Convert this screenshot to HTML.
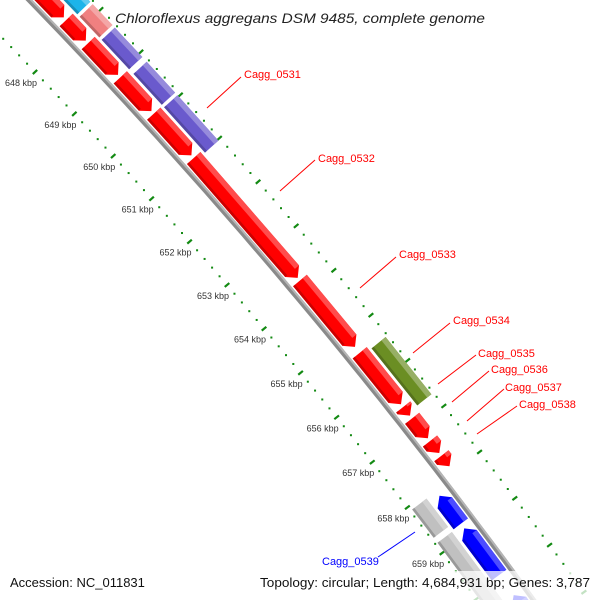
<!DOCTYPE html>
<html><head><meta charset="utf-8"><style>
html,body{margin:0;padding:0;background:#fff;width:600px;height:600px;overflow:hidden;}
svg{display:block;font-family:"Liberation Sans",sans-serif;overflow:hidden;}
</style></head><body>
<svg id="map" width="600" height="600" viewBox="0 0 600 600" xmlns="http://www.w3.org/2000/svg">
<g id="rulers"></g>
<g id="backbone"></g>
<g id="features"></g>
<g id="labels">
<g fill="none" stroke="#ff0000" stroke-width="1">
<line x1="207" y1="108" x2="241" y2="77"/>
<line x1="280" y1="191" x2="315" y2="160"/>
<line x1="360" y1="288" x2="396" y2="257"/>
<line x1="413" y1="353" x2="450" y2="323"/>
<line x1="438" y1="384" x2="476" y2="355"/>
<line x1="452" y1="402" x2="489" y2="371"/>
<line x1="467" y1="421" x2="504" y2="389"/>
<line x1="477" y1="434" x2="517" y2="406"/>
</g>
<line x1="415" y1="532" x2="378" y2="557" stroke="#0000ff" stroke-width="1"/>
<g font-size="11" fill="#ff0000">
<text x="244" y="78">Cagg_0531</text>
<text x="318" y="162">Cagg_0532</text>
<text x="399" y="258">Cagg_0533</text>
<text x="453" y="324">Cagg_0534</text>
<text x="478" y="357">Cagg_0535</text>
<text x="491" y="373">Cagg_0536</text>
<text x="505" y="391">Cagg_0537</text>
<text x="519" y="408">Cagg_0538</text>
</g>
<text x="322" y="565" font-size="11" fill="#0000ff">Cagg_0539</text>
</g>
<text x="115" y="23" font-size="14" font-style="italic" fill="#222" textLength="370" lengthAdjust="spacingAndGlyphs">Chloroflexus aggregans DSM 9485, complete genome</text>
<rect x="0" y="571" width="600" height="29" fill="#fff" fill-opacity="0.75"/>
<text x="10" y="587" font-size="13" fill="#111">Accession: NC_011831</text>
<text x="260" y="587" font-size="13" fill="#111" textLength="330" lengthAdjust="spacingAndGlyphs">Topology: circular; Length: 4,684,931 bp; Genes: 3,787</text>
</svg>
<script>
// kbp positions
const tickKbp = [648,649,650,651,652,653,654,655,656,657,658,659];
const tickLabels = ["648 kbp","649 kbp","650 kbp","651 kbp","652 kbp","653 kbp","654 kbp","655 kbp","656 kbp","657 kbp","658 kbp","659 kbp"];
// forward strand, inner row (red genes): start/end in kbp
const redStart = [646.5, 647.69, 648.24, 649.05, 649.90, 650.93, 653.73, 655.35, 656.55, 656.80, 657.30, 657.62];
const redEnd   = [647.69, 648.24, 649.05, 649.90, 650.93, 653.73, 655.28, 656.55, 656.80, 657.30, 657.62, 657.91];
// forward strand, outer row (other categories)
const outerStart = [646.5, 647.81, 648.36, 649.16, 649.94, 655.42];
const outerEnd   = [647.81, 648.36, 649.11, 649.94, 651.05, 656.74];
const outerColor = ["#1cb4ea","#f08080","#6a5acd","#6a5acd","#6a5acd","#6b8e23"];
// reverse strand
const blueStart = [658.15, 658.86, 660.3];
const blueEnd   = [658.82, 659.93, 661.5];
const grayStart = [658.05, 658.78];
const grayEnd   = [658.73, 660.6];

const NS="http://www.w3.org/2000/svg";
const K0=648;
function R(k){const t=k-K0;return [35+39.57*t-0.233*t*t, 72+41.66*t+0.188*t*t];}
function Nrm(k){const t=k-K0;const tx=39.57-0.466*t, ty=41.66+0.376*t;const l=Math.hypot(tx,ty);return [ty/l,-tx/l];}
function P(k,d){const r=R(k),n=Nrm(k);return [r[0]+d*n[0], r[1]+d*n[1]];}
function el(tag,attrs,parent){const e=document.createElementNS(NS,tag);for(const a in attrs)e.setAttribute(a,attrs[a]);parent.appendChild(e);return e;}
function pts(a){return a.map(p=>p[0].toFixed(1)+","+p[1].toFixed(1)).join(" ");}

const BB=45.5, OUT_R=91;
const rul=document.getElementById('rulers');
[0,OUT_R].forEach((d,ri)=>{
  for(let i=-8;i<=66;i++){
    const k=K0+i*0.2;
    const major=(i%5===0);
    if(major){
      const a=P(k,d-3),b=P(k,d+3);
      const ln=el('line',{x1:a[0],y1:a[1],x2:b[0],y2:b[1],stroke:'#138a13','stroke-width':2.2},rul);
      
      
    } else {
      const c=P(k,d);
      const r=el('rect',{x:c[0]-1,y:c[1]-1,width:2,height:2,fill:'#138a13'},rul);
      
      
    }
  }
});
tickKbp.forEach((k,i)=>{
  const r=R(k);
  const t=el('text',{x:r[0]-14,y:r[1]+14,'font-size':9,fill:'#333','text-anchor':'middle'},rul);
  t.textContent=tickLabels[i];
  
  
});
const bb=document.getElementById('backbone');
function curve(d){const a=[];for(let k=646;k<=661.5;k+=0.25)a.push(P(k,d));return pts(a);}
let b1=el('polyline',{points:curve(BB),fill:'none',stroke:'#8a8a8a','stroke-width':5},bb);


let b2=el('polyline',{points:curve(BB+1.5),fill:'none',stroke:'#b5b5b5','stroke-width':2},bb);



const fg=document.getElementById('features');
function shade(hex,f){const n=parseInt(hex.slice(1),16);let r=n>>16,g=(n>>8)&255,b=n&255;
  if(f>0){r+=(255-r)*f;g+=(255-g)*f;b+=(255-b)*f;}else{r*=1+f;g*=1+f;b*=1+f;}
  return `rgb(${r|0},${g|0},${b|0})`;}
function feature(k1,k2,d1,d2,color,arrow,name){
  const g=el('g',{},fg);
  
  
  const AL=0.15, gap=0.03;
  k1+=gap;k2-=gap;
  const dm=(d1+d2)/2;
  let poly, bodyA=k1, bodyB=k2;
  if(arrow===1){bodyB=Math.max(k1,k2-AL);poly=[P(k1,d1),P(bodyB,d1),P(k2,dm),P(bodyB,d2),P(k1,d2)];}
  else if(arrow===-1){bodyA=Math.min(k2,k1+AL);poly=[P(k1,dm),P(bodyA,d1),P(k2,d1),P(k2,d2),P(bodyA,d2)];}
  else poly=[P(k1,d1),P(k2,d1),P(k2,d2),P(k1,d2)];
  el('polygon',{points:pts(poly),fill:color},g);
  const w=d2-d1;
  el('polygon',{points:pts([P(bodyA,d2-w*0.3),P(bodyB,d2-w*0.3),P(bodyB,d2),P(bodyA,d2)]),fill:shade(color,0.3)},g);
  el('polygon',{points:pts([P(bodyA,d1),P(bodyB,d1),P(bodyB,d1+w*0.15),P(bodyA,d1+w*0.15)]),fill:shade(color,-0.2)},g);
}
redStart.forEach((s,i)=>feature(s,redEnd[i],BB+4,BB+22,'#ff0000',1,'gene-forward-'+i));
outerStart.forEach((s,i)=>feature(s,outerEnd[i],BB+25,BB+43,outerColor[i],0,'feature-outer-'+i));
blueStart.forEach((s,i)=>feature(s,blueEnd[i],BB-22,BB-4,'#0000ff',-1,'gene-reverse-'+i));
grayStart.forEach((s,i)=>feature(s,grayEnd[i],BB-43,BB-25,'#c0c0c0',0,'feature-reverse-outer-'+i));
</script>
</body></html>
